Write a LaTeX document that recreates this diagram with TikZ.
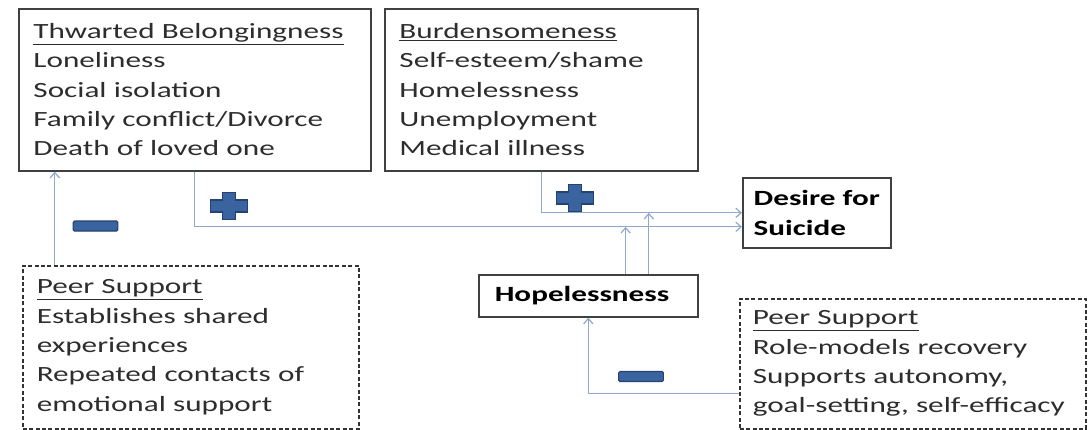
\documentclass[tikz,border=0pt]{standalone}
\usepackage{fontspec}
\setmainfont{Carlito}[FakeStretch=1.435]
\usepackage{tikz}
\usetikzlibrary{arrows.meta}

\definecolor{linkblue}{RGB}{143,168,204}
\definecolor{boxgray}{RGB}{64,64,64}
\definecolor{signfill}{RGB}{58,100,160}
\definecolor{signedge}{RGB}{38,66,112}
\definecolor{inkgray}{RGB}{45,45,45}

\newcommand{\plusmark}[1]{\filldraw[sign] #1 ++(-6.5,-13.5) -- ++(13,0) -- ++(0,7.5) -- ++(12,0) -- ++(0,12) -- ++(-12,0) -- ++(0,7.5) -- ++(-13,0) -- ++(0,-7.5) -- ++(-12,0) -- ++(0,-12) -- ++(12,0) -- cycle;}

\begin{document}
\begin{tikzpicture}[x=0.75pt, y=-0.75pt,
	every node/.style={font=\fontsize{16.3}{22}\selectfont, text=inkgray},
	box/.style={draw=boxgray, line width=1.2pt, anchor=north west, align=left, inner xsep=11pt, inner ysep=0pt},
	peerbox/.style={box, draw=black!80, dash pattern=on 3pt off 1.8pt},
	strong/.style={text=black, font=\fontsize{16.3}{22}\selectfont\bfseries},
	link/.style={draw=linkblue, line width=0.9pt, -{Straight Barb[length=4pt, width=7pt]}},
	sign/.style={fill=signfill, draw=signedge, line width=0.8pt},
	minus/.style={sign, rectangle, rounded corners=1pt, minimum width=33.5pt, minimum height=7.5pt, inner sep=0pt}]
	\useasboundingbox (0,0) rectangle (1089,429);
	\node[box, text width=242pt, minimum height=121.5pt] (tb) at (18,8) {\underline{Thwarted Belongingness}\\Loneliness\\Social isolation\\Family conflict/Divorce\\Death of loved one};
	\node[box, text width=212.75pt, minimum height=121.5pt] (bs) at (384,8) {\underline{Burdensomeness}\\Self-esteem/shame\\Homelessness\\Unemployment\\Medical illness};
	\node[box, strong, inner xsep=6pt, minimum width=111pt, minimum height=52.5pt] (ds) at (742,177) {Desire for\\Suicide};
	\node[box, strong, text width=140.25pt, inner xsep=12pt, minimum height=31.5pt] (hop) at (478,274) {Hopelessness};
	\node[peerbox, text width=231pt, inner xsep=10.5pt, minimum height=122.25pt] (ps1) at (22,265) {\underline{Peer Support}\\Establishes shared\\experiences\\Repeated contacts of\\emotional support};
	\node[peerbox, text width=240pt, inner xsep=9.75pt, minimum height=97.5pt] (ps2) at (739,298) {\underline{Peer Support}\\Role-models recovery\\Supports autonomy,\\goal-setting, self-efficacy};
	\coordinate (lowin) at ([yshift=-10.5pt]ds.west);
	\coordinate (hopa) at ([xshift=28pt]hop.north);
	\coordinate (hopb) at ([xshift=45.4pt]hop.north);
	\coordinate (ps1a) at ([xshift=-102pt]ps1.north);
	\coordinate (ps2a) at ([yshift=-22.5pt]ps2.west);
	\draw[link] (tb.south) |- (lowin);
	\draw[link] (bs.south) |- (ds.west);
	\draw[link] (hopa) -- (hopa |- lowin);
	\draw[link] (hopb) -- (hopb |- ds.west);
	\draw[link] (ps1a) -- (ps1a |- tb.south);
	\draw[link] (ps2a) -| (hop.south);
	\plusmark{(229,206)}
	\plusmark{(575,198)}
	\node[minus] (neg1) at (95.5,226) {};
	\node[minus] (neg2) at (641,376.5) {};
\end{tikzpicture}
\end{document}
